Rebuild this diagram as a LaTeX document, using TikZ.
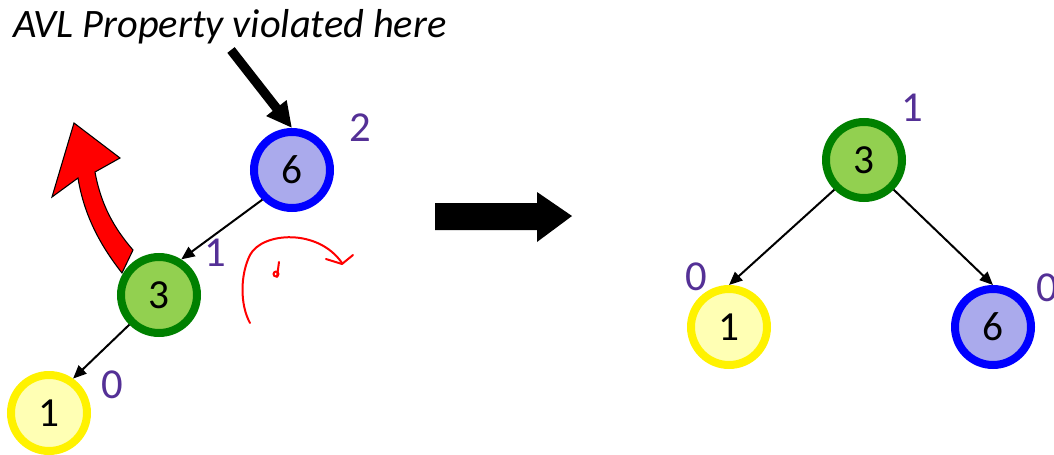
\documentclass[tikz,border=0pt]{standalone}
\usepackage{fontspec}
\setmainfont{Carlito}
\usepackage{tikz}
\usetikzlibrary{arrows.meta,positioning,calc}

\definecolor{lav}{RGB}{170,170,236}
\definecolor{leaf}{RGB}{146,208,80}
\definecolor{dkgreen}{RGB}{0,128,0}
\definecolor{pale}{RGB}{255,255,180}
\definecolor{hgt}{RGB}{84,48,150}

\begin{document}
\begin{tikzpicture}[
    x=0.75pt, y=-0.75pt,
    nd/.style={circle, draw, line width=6pt, minimum size=57pt, inner sep=0pt,
               font=\fontsize{31}{34}\selectfont},
    blu/.style={nd, draw=blue, fill=lav},
    grn/.style={nd, draw=dkgreen, fill=leaf},
    yel/.style={nd, draw=yellow, fill=pale},
    arr/.style={-{Triangle[length=10pt, width=8.5pt]}, line width=1.5pt},
    ht/.style={text=hgt, font=\fontsize{32}{34}\selectfont, inner sep=0pt},
    scrib/.style={red, line width=1.5pt, line cap=round, line join=round},
]
\clip (0,0) rectangle (1054,454);

%% Rotacio: fletxa vermella darrere del 3
\draw[fill=red, line width=0.8pt]
  (122,273) .. controls (100,245) and (84,215) .. (78,178) -- (52,197)
  -- (74,123) -- (120,158) -- (95,172)
  .. controls (101,205) and (114,228) .. (133,250) -- cycle;

%% Arbre esquerre (abans)
\node[blu] (l6) at (292,170) {6};
\node[grn] (l3) at (159,295) {3};
\node[yel] (l1) at (49,413)  {1};
\draw[arr] (l6.225) -- (l3.58);
\draw[arr] (l3.225) -- (l1.55);

\node[ht] (hl6) at (360,128) {2};
\node[ht] (hl3) at (215,253) {1};
\node[ht] (hl1) at (112,385) {0};

%% Nota
\node[font=\fontsize{30.3}{34}\selectfont\itshape, anchor=base west, inner sep=0pt]
  (note) at (13,37) {AVL Property violated here};
\coordinate (vtail) at (231,50);
\draw[-{Triangle[length=19pt, width=18pt]}, line width=7pt] (vtail) -- (l6.north);

%% Gargot vermell
\draw[scrib] (250,323) .. controls (240,305) and (240,275) .. (250,255)
  .. controls (262,232) and (318,228) .. (342,263);
\draw[scrib] (326,259) -- (342,264) -- (353,255);
\draw[scrib] (276,274) circle (2.5);
\draw[scrib] (279,262) -- (277,277);

%% Fletxa gran
\fill (435,203) -- (537,203) -- (537,192) -- (572,216) -- (537,242)
  -- (537,230) -- (435,230) -- cycle;

%% Arbre dret (despres)
\node[grn] (r3) at (864,160) {3};
\node[yel] (r1) at (729,327) {1};
\node[blu] (r6) at (993,327) {6};
\draw[arr] (r3.225) -- (r1.north);
\draw[arr] (r3.315) -- (r6.north);

\node[ht] (hr3) at (912,108)  {1};
\node[ht] (hr1) at (696,277)  {0};
\node[ht] (hr6) at (1047,288) {0};

\end{tikzpicture}
\end{document}
